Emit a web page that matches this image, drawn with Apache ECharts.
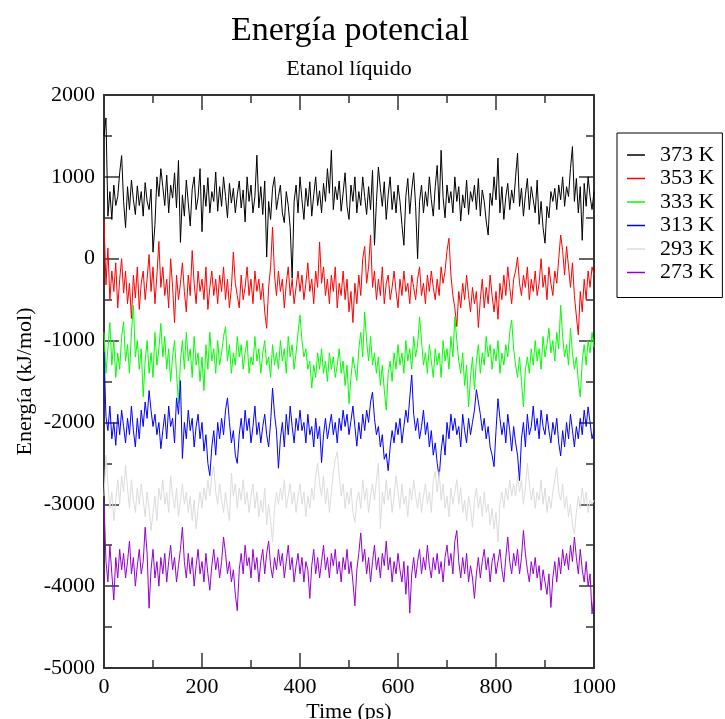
<!DOCTYPE html>
<html>
<head>
<meta charset="utf-8">
<script src="https://cdn.jsdelivr.net/npm/echarts@6/dist/echarts.min.js"></script>
<style>html,body{margin:0;padding:0;background:#fff}#c{width:725px;height:719px}</style>
</head>
<body>
<div id="c"></div>
<script>
// Time samples (ps), one every 4 ps
const timeStep = 4;
const seriesNames = ['373 K','353 K','333 K','313 K','293 K','273 K'];
const xTicks = [0,200,400,600,800,1000];
const yTicks = [-5000,-4000,-3000,-2000,-1000,0,1000,2000];

const e373 = [1500,1720,520,820,480,900,650,760,1050,1260,
700,380,880,600,960,720,540,890,650,820,
520,930,700,600,850,80,420,1000,760,1100,
880,650,1020,560,900,740,1050,620,1200,200,
780,520,960,680,400,850,1000,600,750,1100,
330,900,640,990,560,820,700,1060,580,880,
640,1000,760,500,920,680,860,560,780,950,
620,840,450,1000,700,900,560,760,1265,620,
880,540,950,20,700,480,860,1000,600,760,
900,560,440,820,650,380,-240,700,900,560,
1000,720,480,860,640,940,520,780,1000,650,
830,560,920,700,1100,800,1325,600,880,720,
950,580,800,1050,640,480,900,700,1000,560,
820,650,1000,760,540,880,600,1080,165,700,
1120,860,640,940,480,780,1000,600,820,560,
900,700,420,165,760,980,550,840,1050,640,
0,700,900,560,820,640,1000,720,520,880,
1140,600,1325,750,500,900,680,820,560,1000,
700,880,460,780,620,960,540,820,700,900,
600,980,520,840,700,460,290,800,650,1000,
720,1230,560,880,480,760,920,600,840,680,
1000,1290,640,860,520,780,980,600,880,720,
560,960,420,700,380,190,640,500,820,700,
860,600,900,720,1000,640,880,760,1100,1370,
700,980,560,880,225,920,640,1000,760,600,
820];

const e353 = [480,-320,130,-500,-150,-400,-50,-600,-250,0,
-420,-150,-550,-300,-730,-200,-480,-100,-620,-300,
-150,-500,-250,50,-400,-100,-550,-200,210,-350,
-100,-450,-250,-600,0,-350,-780,-200,-500,-300,
-50,-400,-650,-200,-450,100,-300,-550,-150,-400,
-250,-500,-100,-620,-350,-150,-450,-250,-550,-200,
-400,-100,-500,-250,-600,-350,80,-300,-450,-600,
-200,-500,-350,-100,-450,-250,-550,-150,-400,-250,
-500,-300,-650,-850,-350,-100,385,-200,-450,-150,
-400,-250,-600,-300,-100,-450,-250,-550,-350,-150,
-400,-200,-500,-300,-50,-400,-250,-550,-150,-350,
205,-300,-100,-450,-250,-550,-200,-400,-100,-600,
-300,-450,-150,-500,-250,-650,-400,-780,-300,-550,
-200,-450,0,150,-300,-100,290,-350,-150,-500,
-250,-450,-100,-550,-300,-200,-500,-350,-150,-400,
-600,-250,-450,-150,-400,-300,-550,-200,-350,-500,
-250,-100,-450,-300,-550,-200,-400,-150,-350,-500,
-250,-450,-100,-300,-150,100,250,-200,-450,-600,
-830,-400,-600,-300,-500,-200,-450,-650,-350,-550,
-400,-840,-500,-250,-600,-350,-550,-200,-450,-650,
-400,-740,-300,-500,-200,-450,-100,-350,-550,-250,
-150,20,-300,-450,-200,-350,-100,-500,-250,-400,
-150,-450,-300,0,-350,-200,-500,-100,-300,-450,
-150,-300,0,290,100,-200,150,-100,-350,-50,
-450,-700,-930,-400,-650,-250,-500,-150,-350,-100,
-200];

const e333 = [-900,-1400,-1100,-780,-1300,-1000,-1450,-1150,-1350,-950,
-770,-1250,-1050,-1400,-900,-570,-1200,-1000,-1350,-1100,
-1690,-1250,-1000,-1400,-1150,-1450,-900,-1300,-1100,-790,
-1200,-950,-1350,-1100,-1500,-1200,-1000,-1400,-1770,-1250,
-1000,-1350,-900,-1250,-1100,-1450,-950,-1300,-1150,-1500,
-1200,-1610,-1050,-1350,-900,-1250,-1100,-1400,-1000,-1300,
-1150,-950,-830,-1250,-1050,-1400,-1150,-1300,-950,-1200,
-1050,-1350,-1150,-1000,-1400,-1200,-1300,-950,-1250,-1100,
-1400,-1150,-1000,-1300,-1200,-1450,-1050,-1300,-1150,-1350,
-1000,-1250,-1100,-1400,-950,-1200,-1050,-1350,-1150,-900,
-690,-1000,-1200,-1100,-1350,-1250,-1580,-1300,-1450,-1150,
-1350,-1100,-1400,-1250,-1500,-1150,-1350,-1200,-1450,-1300,
-1100,-1400,-1250,-1550,-1300,-1770,-1450,-1200,-1350,-1490,
-1100,-900,-1200,-650,-1000,-1250,-950,-1300,-1150,-1400,
-1200,-1550,-1300,-1600,-1850,-1400,-1250,-1500,-1150,-1350,
-1050,-1300,-1150,-1400,-1000,-1250,-1100,-1350,-950,-1200,
-1050,-710,-1000,-1300,-1150,-1400,-1050,-1250,-1450,-1100,
-1300,-1150,-1450,-1000,-1250,-1100,-1350,-950,-1200,-710,
-1000,-1250,-1400,-1150,-1550,-1300,-1810,-1450,-1200,-1600,
-1250,-1050,-1400,-1150,-1300,-950,-1200,-1050,-1350,-1100,
-1250,-1000,-1400,-1150,-1300,-1050,-1200,-900,-750,-1100,
-1300,-1450,-1200,-1500,-1810,-1350,-1200,-1400,-1100,-1300,
-1000,-1250,-1100,-1350,-950,-1200,-1050,-850,-1150,-1000,
-1250,-900,-1100,-570,-950,-1200,-1050,-1300,-850,-1150,
-1350,-1200,-1500,-1690,-1250,-1050,-1300,-1000,-1150,-900,
-1080];

const e313 = [-1140,-1930,-2100,-1800,-2200,-2000,-2280,-1900,-2150,-1850,
-2050,-2250,-1950,-2150,-1800,-2100,-2300,-1950,-2200,-1850,
-2050,-1750,-1950,-1610,-1850,-2050,-1900,-2150,-2000,-2320,
-2100,-1900,-2200,-1800,-2050,-1950,-2250,-1700,-1900,-1490,
-2440,-2000,-2200,-1850,-2100,-1950,-2300,-2050,-1900,-2200,
-2000,-2350,-2150,-2500,-2650,-2300,-2100,-2400,-2000,-2200,
-1950,-2150,-1850,-1700,-2000,-2250,-2100,-2400,-2500,-2150,
-1950,-2200,-1850,-2100,-1950,-2250,-2050,-1800,-2150,-2000,
-2250,-2050,-1900,-2150,-2300,-2000,-1580,-1900,-2100,-2560,
-2200,-2000,-2300,-1900,-2150,-1800,-2050,-2250,-1950,-2100,
-1850,-2100,-2000,-2250,-1900,-2150,-2050,-2300,-1950,-2200,
-2050,-2490,-2150,-1950,-2200,-2050,-1900,-2150,-2000,-2250,
-1950,-2100,-1850,-2050,-1900,-2150,-1980,-1800,-2050,-2290,
-2000,-2200,-1900,-2100,-1850,-2000,-1750,-1630,-1950,-2150,
-2050,-2300,-2150,-2450,-2380,-2590,-2300,-2100,-2250,-2000,
-2150,-1950,-2250,-2050,-1850,-2000,-1700,-1420,-1900,-2100,
-1950,-2200,-2050,-1850,-2150,-2000,-2300,-2100,-2400,-2250,
-2500,-2670,-2350,-2150,-2400,-2000,-2200,-1900,-2100,-1950,
-2150,-2050,-2300,-1900,-2100,-2250,-1950,-2150,-2000,-1850,
-1600,-1610,-1900,-2100,-1950,-2200,-2050,-2300,-2400,-2540,
-2100,-1710,-1950,-2150,-2000,-2250,-1900,-2100,-2350,-2050,
-2250,-2400,-2710,-2200,-2000,-2300,-1900,-2150,-2050,-1800,
-2100,-1950,-2200,-1850,-2050,-2150,-1900,-2100,-2250,-2000,
-2150,-1950,-2250,-2410,-2100,-2300,-2000,-2200,-1900,-2100,
-2300,-2050,-2200,-1950,-2150,-1850,-2050,-1810,-2000,-2200,
-2100];

const e293 = [-2900,-2400,-2750,-3050,-2850,-3200,-2950,-2700,-3000,-2650,
-2850,-2520,-2800,-3050,-2700,-2950,-3100,-2800,-3000,-2750,
-2950,-3150,-2850,-3050,-3320,-3100,-2900,-3200,-2800,-2950,
-2700,-3000,-2850,-3100,-2650,-2900,-3050,-2800,-3150,-2950,
-2750,-3000,-2850,-3100,-2900,-3200,-2950,-3300,-3050,-2850,
-3050,-2800,-2950,-2700,-2900,-2650,-2540,-2850,-3000,-2750,
-2950,-3100,-2850,-3050,-3200,-2620,-2900,-2750,-3050,-2800,
-2950,-2700,-3000,-2850,-3100,-2900,-2750,-3050,-2850,-3150,
-2950,-3100,-2800,-3250,-3000,-3200,-3460,-3050,-2850,-3000,
-2800,-2950,-2700,-3050,-2900,-2750,-3000,-2850,-3100,-2900,
-2750,-3000,-2850,-3150,-2900,-3050,-2800,-2950,-2650,-2500,
-2750,-2900,-2650,-3000,-2800,-3100,-2850,-2600,-2450,-2360,
-2650,-2900,-2750,-3050,-2850,-3000,-2800,-3100,-3220,-2950,
-2850,-3050,-2700,-2950,-2800,-3100,-2900,-2750,-2950,-2700,
-2500,-3300,-2850,-3000,-2700,-2950,-2800,-3100,-2900,-2650,
-2850,-3050,-2750,-3000,-2900,-3150,-2800,-2950,-2700,-2900,
-3050,-2850,-3100,-2900,-2750,-3000,-2850,-3100,-2700,-2600,
-2850,-2600,-2950,-2750,-3050,-2900,-3150,-2800,-3000,-2850,
-2700,-3000,-2800,-3100,-2950,-3200,-2900,-3050,-3280,-2950,
-2800,-3050,-2900,-3150,-2850,-3100,-3000,-3250,-3050,-3300,
-3100,-3460,-3000,-2850,-3050,-2800,-2950,-2700,-2900,-2750,
-2900,-2650,-2850,-2700,-3000,-2800,-2500,-2750,-2950,-2800,
-3050,-2850,-2950,-2700,-3000,-2800,-3100,-2900,-3050,-2850,
-2700,-2550,-2850,-2950,-2750,-3050,-2900,-3150,-3000,-3250,
-3360,-3100,-2900,-3050,-2800,-3000,-2850,-3100,-2950,-3000,
-2950];

const e273 = [-2970,-3700,-3950,-3500,-3850,-4170,-3650,-3900,-3550,-3800,
-3600,-3900,-3700,-3450,-3850,-3650,-4000,-3750,-3550,-3850,
-3700,-3280,-3600,-4270,-3800,-3550,-3900,-3700,-4000,-3650,
-3850,-3600,-3950,-3700,-3500,-3800,-3650,-3950,-3750,-3550,
-3280,-3700,-3900,-3600,-3850,-3650,-4000,-3750,-3550,-3850,
-3700,-3950,-3600,-3850,-4050,-3750,-3550,-3800,-3650,-3900,
-3700,-3400,-3600,-3850,-3700,-3950,-3800,-4100,-4300,-3800,
-3600,-3850,-3500,-3750,-3650,-3900,-3550,-3800,-3650,-3950,
-3700,-3550,-3850,-3600,-3450,-3750,-3900,-3650,-3800,-3550,
-3750,-3600,-3900,-3700,-3500,-3800,-3650,-3950,-3750,-3600,
-3850,-3650,-3950,-3700,-3800,-4150,-3750,-3550,-3850,-3650,
-3900,-3700,-3500,-3800,-3650,-3900,-3600,-3750,-3550,-3850,
-3700,-3950,-3650,-3800,-3550,-3850,-3700,-3950,-4240,-3800,
-3600,-3350,-3700,-3550,-3850,-3650,-3950,-3700,-3500,-3800,
-3650,-3900,-3600,-3750,-3450,-3800,-3650,-3950,-3700,-3850,
-3600,-3800,-3950,-3700,-4100,-3750,-4330,-3850,-3650,-3900,
-3700,-3550,-3850,-3650,-3800,-3500,-3750,-3900,-3650,-3800,
-3600,-3850,-3700,-3950,-3650,-3500,-3750,-3600,-3850,-3450,
-3320,-3700,-3900,-3650,-3850,-3600,-3950,-3750,-3900,-4150,
-3850,-3650,-3900,-3700,-3550,-3800,-3650,-3950,-3700,-3600,
-3850,-3700,-3550,-3800,-3950,-3650,-3400,-3700,-3850,-3600,
-3750,-3550,-3850,-3650,-3320,-3600,-3800,-3950,-3700,-3850,
-3650,-3900,-3750,-4050,-3800,-3950,-4100,-3850,-4260,-3900,
-3700,-3950,-3650,-3850,-3550,-3750,-3600,-3800,-3500,-3700,
-3400,-3650,-3850,-3550,-3800,-3950,-3700,-4000,-3850,-4340,
-4100];

const seriesValues = [e373, e353, e333, e313, e293, e273];
const seriesColors = ['#000000','#ff0000','#00ff00','#0000ff','#dcdcdc','#9400d3'];

const FONT = 'Liberation Serif';
const chart = echarts.init(document.getElementById('c'), null, {renderer:'canvas'});

function mkSeries(i){
  const vals = seriesValues[i];
  return {
    name: seriesNames[i],
    type: 'line',
    data: vals.map((v, k) => [k * timeStep, v]),
    symbol: 'none',
    showSymbol: false,
    lineStyle: {color: seriesColors[i], width: 1},
    itemStyle: {color: seriesColors[i]},
    silent: true,
    z: 2 + i
  };
}

const axisCommon = {
  axisLine: {show: true, onZero: false, lineStyle: {color: '#333', width: 2}},
  axisTick: {show: true, inside: true, length: 15, lineStyle: {color: '#333', width: 1.5}},
  minorTick: {show: true, splitNumber: 2, length: 8, lineStyle: {color: '#333', width: 1.5}},
  splitLine: {show: false}
};

const option = {
  animation: false,
  backgroundColor: '#fff',
  title: [
    {text: 'Energía potencial', left: 345, top: 9, textAlign: 'center',
     textStyle: {fontFamily: FONT, fontSize: 34, fontWeight: 'normal', color: '#000'}},
    {text: 'Etanol líquido', left: 344, top: 53, textAlign: 'center',
     textStyle: {fontFamily: FONT, fontSize: 22, fontWeight: 'normal', color: '#000'}}
  ],
  legend: {
    orient: 'vertical',
    left: 617, top: 133,
    data: seriesNames,
    icon: 'rect',
    itemWidth: 18, itemHeight: 1.5, itemGap: 1.5,
    padding: [11, 8, 14, 10],
    borderColor: '#000', borderWidth: 1,
    backgroundColor: '#fff',
    textStyle: {fontFamily: FONT, fontSize: 22, color: '#000', padding: [0,0,0,10], lineHeight: 22},
    selectedMode: false
  },
  grid: {left: 104, top: 95, width: 490, height: 573, show: false, outerBoundsMode: 'none', containLabel: false},
  xAxis: [
    Object.assign({}, axisCommon, {
      type: 'value', min: 0, max: 1000, interval: 200, position: 'bottom',
      axisLabel: {fontFamily: FONT, fontSize: 22, color: '#000', margin: 8,
        formatter: v => xTicks.includes(v) ? String(v) : ''},
      name: 'Time (ps)', nameLocation: 'middle', nameGap: 33, nameMoveOverlap: false,
      nameTextStyle: {fontFamily: FONT, fontSize: 22, color: '#000'}
    }),
    Object.assign({}, axisCommon, {
      type: 'value', min: 0, max: 1000, interval: 200, position: 'top',
      axisLabel: {show: false}
    })
  ],
  yAxis: [
    Object.assign({}, axisCommon, {
      type: 'value', min: -5000, max: 2000, interval: 1000, position: 'left',
      axisLabel: {fontFamily: FONT, fontSize: 22, color: '#000', margin: 9,
        formatter: v => yTicks.includes(v) ? String(v) : ''},
      name: 'Energía (kJ/mol)', nameLocation: 'middle', nameGap: 68, nameRotate: 90, nameMoveOverlap: false,
      nameTextStyle: {fontFamily: FONT, fontSize: 22, color: '#000'}
    }),
    Object.assign({}, axisCommon, {
      type: 'value', min: -5000, max: 2000, interval: 1000, position: 'right',
      axisLabel: {show: false}
    })
  ],
  series: seriesNames.map((_, i) => mkSeries(i))
};
chart.setOption(option);
</script>
</body>
</html>
